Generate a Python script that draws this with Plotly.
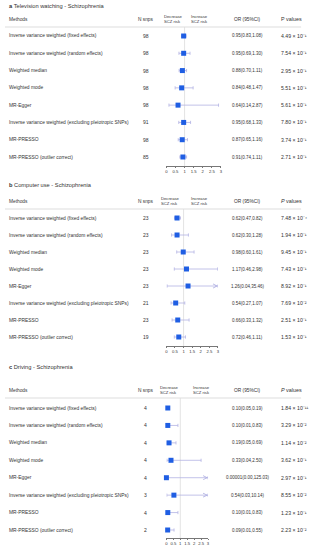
import plotly.graph_objects as go

W, H = 316, 550

methods = [
    "Inverse variance weighted (fixed effects)",
    "Inverse variance weighted (random effects)",
    "Weighted median",
    "Weighted mode",
    "MR-Egger",
    "Inverse variance weighted (excluding pleiotropic SNPs)",
    "MR-PRESSO",
    "MR-PRESSO (outlier correct)",
]

# Panel a: Television watching
tv_nsnps = [98, 98, 98, 98, 98, 91, 98, 85]
tv_or = [0.95, 0.95, 0.88, 0.84, 0.64, 0.95, 0.87, 0.91]
tv_lo = [0.83, 0.69, 0.70, 0.48, 0.14, 0.68, 0.65, 0.74]
tv_hi = [1.08, 1.30, 1.11, 1.47, 2.87, 1.33, 1.16, 1.11]
tv_or_text = ["0.95(0.83,1.08)", "0.95(0.69,1.30)", "0.88(0.70,1.11)", "0.84(0.48,1.47)",
              "0.64(0.14,2.87)", "0.95(0.68,1.33)", "0.87(0.65,1.16)", "0.91(0.74,1.11)"]
tv_p_mant = ["4.49", "7.54", "2.95", "5.51", "5.61", "7.80", "3.74", "2.71"]
tv_p_exp = [-1, -1, -1, -1, -1, -1, -1, -1]

# Panel b: Computer use
cu_nsnps = [23, 23, 23, 23, 23, 21, 23, 19]
cu_or = [0.62, 0.62, 0.98, 1.17, 1.26, 0.54, 0.66, 0.72]
cu_lo = [0.47, 0.30, 0.60, 0.46, 0.04, 0.27, 0.33, 0.46]
cu_hi = [0.82, 1.28, 1.61, 2.98, 35.46, 1.07, 1.32, 1.11]
cu_or_text = ["0.62(0.47,0.82)", "0.62(0.30,1.28)", "0.98(0.60,1.61)", "1.17(0.46,2.98)",
              "1.26(0.04,35.46)", "0.54(0.27,1.07)", "0.66(0.33,1.32)", "0.72(0.46,1.11)"]
cu_p_mant = ["7.48", "1.94", "9.45", "7.43", "8.92", "7.69", "2.51", "1.53"]
cu_p_exp = [-4, -1, -1, -1, -1, -2, -1, -1]

# Panel c: Driving
dr_nsnps = [4, 4, 4, 4, 4, 3, 4, 2]
dr_or = [0.10, 0.10, 0.19, 0.33, 0.00001, 0.54, 0.10, 0.09]
dr_lo = [0.05, 0.01, 0.05, 0.04, 0.00, 0.03, 0.01, 0.01]
dr_hi = [0.19, 0.83, 0.69, 2.50, 125.03, 10.14, 0.83, 0.55]
dr_or_text = ["0.10(0.05,0.19)", "0.10(0.01,0.83)", "0.19(0.05,0.69)", "0.33(0.04,2.50)",
              "0.00001(0.00,125.03)", "0.54(0.03,10.14)", "0.10(0.01,0.83)", "0.09(0.01,0.55)"]
dr_p_mant = ["1.84", "3.29", "1.14", "3.62", "2.97", "8.55", "1.23", "2.23"]
dr_p_exp = [-11, -2, -2, -1, -1, -2, -1, -2]

axis_ticks = [0, 0.5, 1, 1.5, 2, 2.5, 3]
axis_ticktext = ["0", "0.5", "1", "1.5", "2", "2.5", "3"]
AX_MAX = 3

SUP = str.maketrans("-0123456789", "⁻⁰¹²³⁴⁵⁶⁷⁸⁹")

panels = [
    dict(letter="a", title="Television watching - Schizophrenia", pitalic=False,
         nsnps=tv_nsnps, orv=tv_or, lo=tv_lo, hi=tv_hi, ortext=tv_or_text,
         pm=tv_p_mant, pe=tv_p_exp,
         title_y=6, head_y=19, sep_y=27, row0=36, row7=157, axis_y=166, x1=222,
         dec_x=164, inc_x=191),
    dict(letter="b", title="Computer use - Schizophrenia", pitalic=True,
         nsnps=cu_nsnps, orv=cu_or, lo=cu_lo, hi=cu_hi, ortext=cu_or_text,
         pm=cu_p_mant, pe=cu_p_exp,
         title_y=185, head_y=201, sep_y=209, row0=218, row7=337, axis_y=346, x1=219,
         dec_x=161, inc_x=191),
    dict(letter="c", title="Driving - Schizophrenia", pitalic=True,
         nsnps=dr_nsnps, orv=dr_or, lo=dr_lo, hi=dr_hi, ortext=dr_or_text,
         pm=dr_p_mant, pe=dr_p_exp,
         title_y=367, head_y=390, sep_y=398, row0=408, row7=530, axis_y=538, x1=209,
         dec_x=160, inc_x=193),
]

X0 = 167
METH_X = 7
NSNP_X = 146
OR_X = 249
P_X = 282
FONT = "Liberation Sans, Arial, sans-serif"
TXT = "#333333"
BLUE = "#1f5ee3"
CI = "#b3b3e3"

fig = go.Figure()
annotations = []
shapes = []

def px2paper_y(py):
    return 1 - py / H

def ann(**kw):
    d = dict(showarrow=False, borderpad=0, yanchor="middle")
    d.update(kw)
    annotations.append(d)

for k, p in enumerate(panels):
    sfx = "" if k == 0 else str(k + 1)
    xa, ya = "x" + sfx, "y" + sfx
    n = len(methods)
    step = (p["row7"] - p["row0"]) / (n - 1)
    v = lambda py: (py - p["row0"]) / step

    fig.update_layout({
        "xaxis" + sfx: dict(domain=[X0 / W, p["x1"] / W], range=[0, AX_MAX], anchor=ya,
                            showgrid=False, zeroline=False, showline=True, linecolor="#777777",
                            linewidth=0.6, ticks="outside", ticklen=1.5, tickwidth=0.5,
                            tickcolor="#777777", tickvals=axis_ticks, ticktext=axis_ticktext,
                            tickfont=dict(size=4.2, color=TXT, family=FONT), fixedrange=True),
        "yaxis" + sfx: dict(domain=[px2paper_y(p["axis_y"]), px2paper_y(p["sep_y"])],
                            range=[v(p["axis_y"]), v(p["sep_y"])], anchor=xa, visible=False,
                            fixedrange=True),
    })

    rows = list(range(n))
    plus = [min(h, AX_MAX) - o for h, o in zip(p["hi"], p["orv"])]
    minus = [o - l for o, l in zip(p["orv"], p["lo"])]
    fig.add_trace(go.Scatter(
        x=p["orv"], y=rows, xaxis=xa, yaxis=ya, mode="markers",
        marker=dict(symbol="square", size=5, color=BLUE),
        error_x=dict(type="data", symmetric=False, array=plus, arrayminus=minus,
                     color=CI, thickness=0.8, width=1.6),
        showlegend=False, hoverinfo="skip", cliponaxis=False))

    # arrows for CIs beyond the axis
    for i, h in enumerate(p["hi"]):
        if h > AX_MAX:
            annotations.append(dict(x=AX_MAX, y=i, xref=xa, yref=ya, ax=AX_MAX - 0.25, ay=i,
                                    axref=xa, ayref=ya, text="", showarrow=True, arrowhead=5,
                                    arrowsize=1.0, arrowwidth=0.8, arrowcolor=CI, standoff=0,
                                    startstandoff=0))

    # reference line at OR = 1
    shapes.append(dict(type="line", xref=xa, yref=ya + " domain", x0=1, x1=1, y0=0, y1=1,
                       line=dict(color="#d0d0d0", width=0.6), layer="below"))
    # header separator
    shapes.append(dict(type="line", xref="paper", yref="paper", x0=4 / W, x1=303 / W,
                       y0=px2paper_y(p["sep_y"]), y1=px2paper_y(p["sep_y"]),
                       line=dict(color="#dddddd", width=1)))

    # title
    ann(x=METH_X / W, y=px2paper_y(p["title_y"]), xref="paper", yref="paper", xanchor="left",
        text="<b>%s</b> %s" % (p["letter"], p["title"]),
        font=dict(size=5.7, color=TXT, family=FONT))
    # headers
    hy = px2paper_y(p["head_y"])
    hdr_font = dict(size=4.8, color=TXT, family=FONT)
    ann(x=METH_X / W, y=hy, xref="paper", yref="paper", xanchor="left", text="Methods",
        font=hdr_font)
    ann(x=NSNP_X / W, y=hy, xref="paper", yref="paper", xanchor="center", text="N snps",
        font=hdr_font)
    ann(x=OR_X / W, y=hy, xref="paper", yref="paper", xanchor="center", text="OR (95%CI)",
        font=hdr_font)
    ptxt = "<i>P</i> values" if p["pitalic"] else "P values"
    ann(x=P_X / W, y=hy, xref="paper", yref="paper", xanchor="left", text=ptxt,
        font=dict(size=5.4, color=TXT, family=FONT))
    small = dict(size=4.2, color=TXT, family=FONT)
    ann(x=p["dec_x"] / W, y=hy, xref="paper", yref="paper", xanchor="left", align="left",
        text="Decrease<br>SCZ risk", font=small)
    ann(x=p["inc_x"] / W, y=hy, xref="paper", yref="paper", xanchor="left", align="left",
        text="Increase<br>SCZ risk", font=small)

    # row texts
    for i in rows:
        ann(x=METH_X / W, y=i, xref="paper", yref=ya, xanchor="left", text=methods[i],
            font=dict(size=4.9, color=TXT, family=FONT))
        ann(x=NSNP_X / W, y=i, xref="paper", yref=ya, xanchor="center",
            text=str(p["nsnps"][i]), font=dict(size=5.0, color=TXT, family=FONT))
        ann(x=OR_X / W, y=i, xref="paper", yref=ya, xanchor="center", text=p["ortext"][i],
            font=dict(size=4.5, color=TXT, family=FONT))
        ann(x=P_X / W, y=i, xref="paper", yref=ya, xanchor="left",
            text="%s × 10%s" % (p["pm"][i], str(p["pe"][i]).translate(SUP)),
            font=dict(size=5.2, color=TXT, family=FONT))

fig.update_layout(width=W, height=H, margin=dict(l=0, r=0, t=0, b=0),
                  paper_bgcolor="white", plot_bgcolor="white",
                  annotations=annotations, shapes=shapes, showlegend=False)

fig.write_html("out.html", config={"displayModeBar": False})
